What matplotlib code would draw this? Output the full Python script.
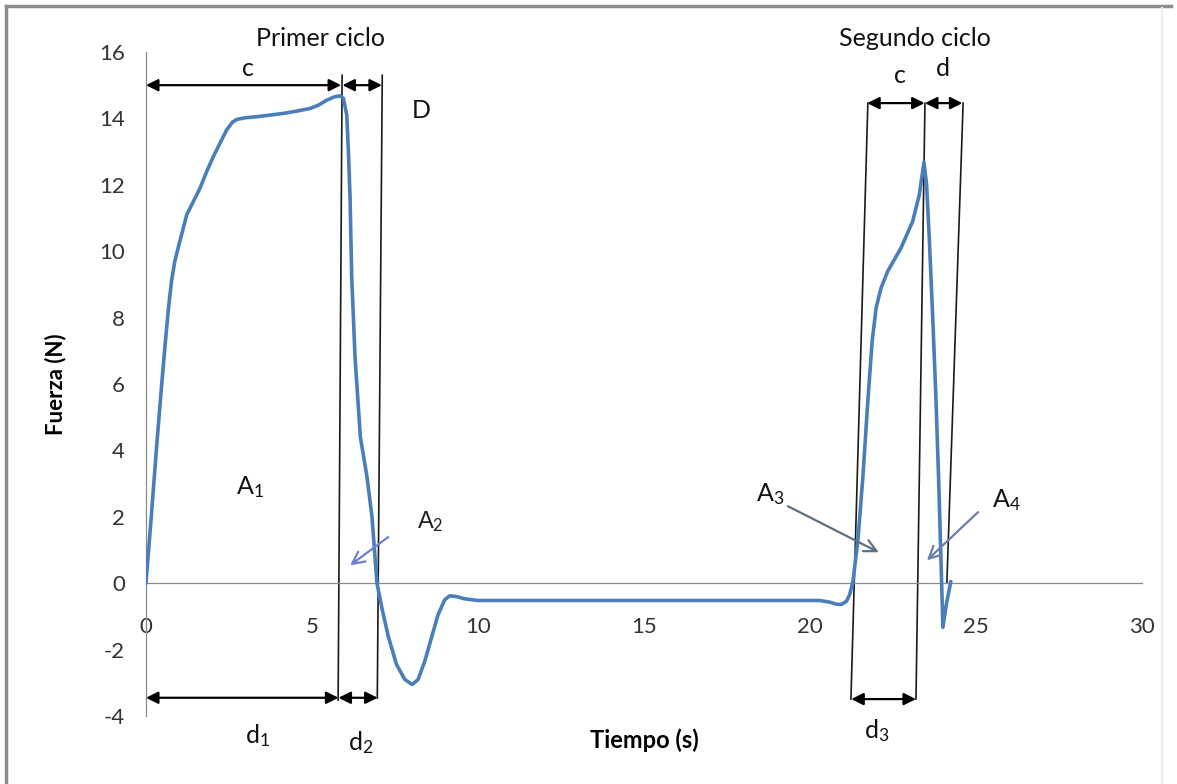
import matplotlib
matplotlib.use("Agg")
import matplotlib.pyplot as plt
from matplotlib.lines import Line2D

plt.rcParams['font.family'] = ['Lato', 'DejaVu Sans']
plt.rcParams['mathtext.fontset'] = 'custom'
plt.rcParams['mathtext.rm'] = 'Lato'
plt.rcParams['mathtext.default'] = 'rm'
plt.rcParams['axes.unicode_minus'] = False

# force curve
tiempo = [0, 0.16, 0.32, 0.45, 0.57, 0.68, 0.77, 0.87, 0.97, 1.1, 1.23, 1.43,
          1.63, 1.83, 2.03, 2.23, 2.43, 2.6, 2.74, 3.0, 3.34, 3.74, 4.14, 4.55,
          4.95, 5.2, 5.45, 5.68, 5.85, 5.95, 6.05, 6.1, 6.15, 6.2, 6.3, 6.46,
          6.66, 6.81, 6.96, 7.12, 7.3, 7.55, 7.8, 8.02, 8.2, 8.4, 8.6, 8.8,
          9.0, 9.15, 9.35, 9.6, 10.0, 10.5, 15.0, 20.3, 20.6, 20.8, 20.95,
          21.1, 21.2, 21.3, 21.45, 21.6, 21.75, 21.88, 22.0, 22.15, 22.35,
          22.75, 23.1, 23.3, 23.44, 23.52, 23.6, 23.7, 23.8, 23.88, 23.95,
          24.01, 24.12, 24.25]
fuerza = [0, 2.0, 4.1, 5.7, 7.1, 8.3, 9.1, 9.7, 10.1, 10.6, 11.1, 11.5,
          11.9, 12.4, 12.85, 13.25, 13.65, 13.88, 13.97, 14.02, 14.05, 14.1,
          14.15, 14.22, 14.3, 14.4, 14.55, 14.65, 14.68, 14.6, 14.1, 13.0,
          11.6, 9.2, 6.8, 4.4, 3.2, 2.0, 0.0, -0.8, -1.6, -2.45, -2.9, -3.05,
          -2.9, -2.35, -1.65, -0.95, -0.5, -0.38, -0.4, -0.47, -0.52, -0.52,
          -0.52, -0.52, -0.57, -0.63, -0.64, -0.55, -0.35, 0.05, 1.3, 3.2, 5.5,
          7.3, 8.3, 8.9, 9.4, 10.1, 10.9, 11.7, 12.68, 12.0, 10.4, 8.1, 5.6,
          3.2, 0.8, -1.33, -0.6, 0.05]

x_ticks = [0, 5, 10, 15, 20, 25, 30]
y_ticks = [-4, -2, 0, 2, 4, 6, 8, 10, 12, 14, 16]

# hand-drawn guide lines: (x_top, y_top, x_bottom, y_bottom)
guias = [(5.91, 15.3, 5.79, -3.52), (7.12, 15.3, 6.97, -3.46),
         (21.75, 14.46, 21.24, -3.49), (23.47, 14.46, 23.2, -3.49),
         (24.62, 14.46, 24.13, 0.0)]
# double arrows: (x0, x1, y)
flechas = [(0, 5.88, 15.0), (5.92, 7.11, 15.0), (0, 5.8, -3.45), (5.8, 6.98, -3.45),
           (21.73, 23.46, 14.46), (23.47, 24.6, 14.46), (21.25, 23.2, -3.49)]
# text labels: (x, y, text)
etiquetas = [(3.08, 15.5, 'c'), (8.3, 14.25, 'D'), (22.71, 15.3, 'c'), (24.01, 15.5, 'd'),
             (5.25, 16.42, 'Primer ciclo'), (23.17, 16.42, 'Segundo ciclo'),
             (3.13, 2.9, 'A$_1$'), (18.82, 2.68, 'A$_3$'), (25.91, 2.5, 'A$_4$'),
             (3.35, -4.58, 'd$_1$'), (6.46, -4.79, 'd$_2$'), (22.02, -4.43, 'd$_3$')]
# area arrows: (x_start, y_start, x_tip, y_tip)
areas = [(7.3, 1.39, 6.15, 0.54), (19.34, 2.32, 22.08, 0.93), (25.07, 2.14, 23.53, 0.69)]


def main():
    fig = plt.figure(figsize=(11.77, 7.84), dpi=100)
    ax = fig.add_axes([0.124, 0.0867, 0.846, 0.847])

    ax.plot(tiempo, fuerza, color='#4a7ebb', lw=2.6, solid_joinstyle='round',
            solid_capstyle='round', zorder=3)

    ax.set_xlim(0, 30)
    ax.set_ylim(-4, 16)
    ax.set_xticks(x_ticks)
    ax.set_yticks(y_ticks)
    ax.spines['top'].set_visible(False)
    ax.spines['right'].set_visible(False)
    ax.spines['left'].set_color('#8a8a8a')
    ax.spines['left'].set_linewidth(0.9)
    ax.spines['bottom'].set_position(('data', 0))
    ax.spines['bottom'].set_color('#8a8a8a')
    ax.spines['bottom'].set_linewidth(0.9)
    ax.tick_params(axis='x', length=0, pad=24, labelsize=16, labelcolor='#333333')
    ax.tick_params(axis='y', length=0, pad=15, labelsize=16, labelcolor='#333333')
    ax.set_ylabel('Fuerza (N)', fontsize=16, fontweight='bold', labelpad=24)

    for x0, y0, x1, y1 in guias:
        ax.plot([x0, x1], [y0, y1], color='#1a1a1a', lw=1.2, zorder=2)

    for x0, x1, y in flechas:
        ax.annotate('', xy=(x1, y), xytext=(x0, y),
                    arrowprops=dict(arrowstyle='<|-|>', color='black', lw=1.6,
                                    mutation_scale=18, shrinkA=0, shrinkB=0))

    for x, y, t in etiquetas:
        ax.text(x, y, t, fontsize=18, ha='center', va='center', color='#111111',
                clip_on=False)
    ax.text(8.57, 1.84, 'A$_2$', fontsize=17, ha='center', va='center',
            family=['Liberation Sans', 'DejaVu Sans'], color='#222222')
    ax.text(15.02, -4.73, 'Tiempo (s)', fontsize=17, fontweight='bold',
            ha='center', va='center', clip_on=False)

    colores = ['#6d7fd0', '#5f6f86', '#6a7fb0']
    for (x0, y0, x1, y1), col in zip(areas, colores):
        ax.annotate('', xy=(x1, y1), xytext=(x0, y0),
                    arrowprops=dict(arrowstyle='->', color=col, lw=1.6,
                                    mutation_scale=22, shrinkA=0, shrinkB=0))

    # gray frame of the original screenshot
    fig.add_artist(Line2D([0.005, 0.995], [0.9925, 0.9925], color='#8c8c8c', lw=2.5))
    fig.add_artist(Line2D([0.0055, 0.0055], [0.0, 0.9925], color='#8c8c8c', lw=2.5))
    fig.add_artist(Line2D([0.987, 0.987], [0.0, 0.99], color='#eeeeee', lw=1.5))

    fig.savefig('out.png', dpi=100)
    plt.close(fig)


if __name__ == '__main__':
    main()
